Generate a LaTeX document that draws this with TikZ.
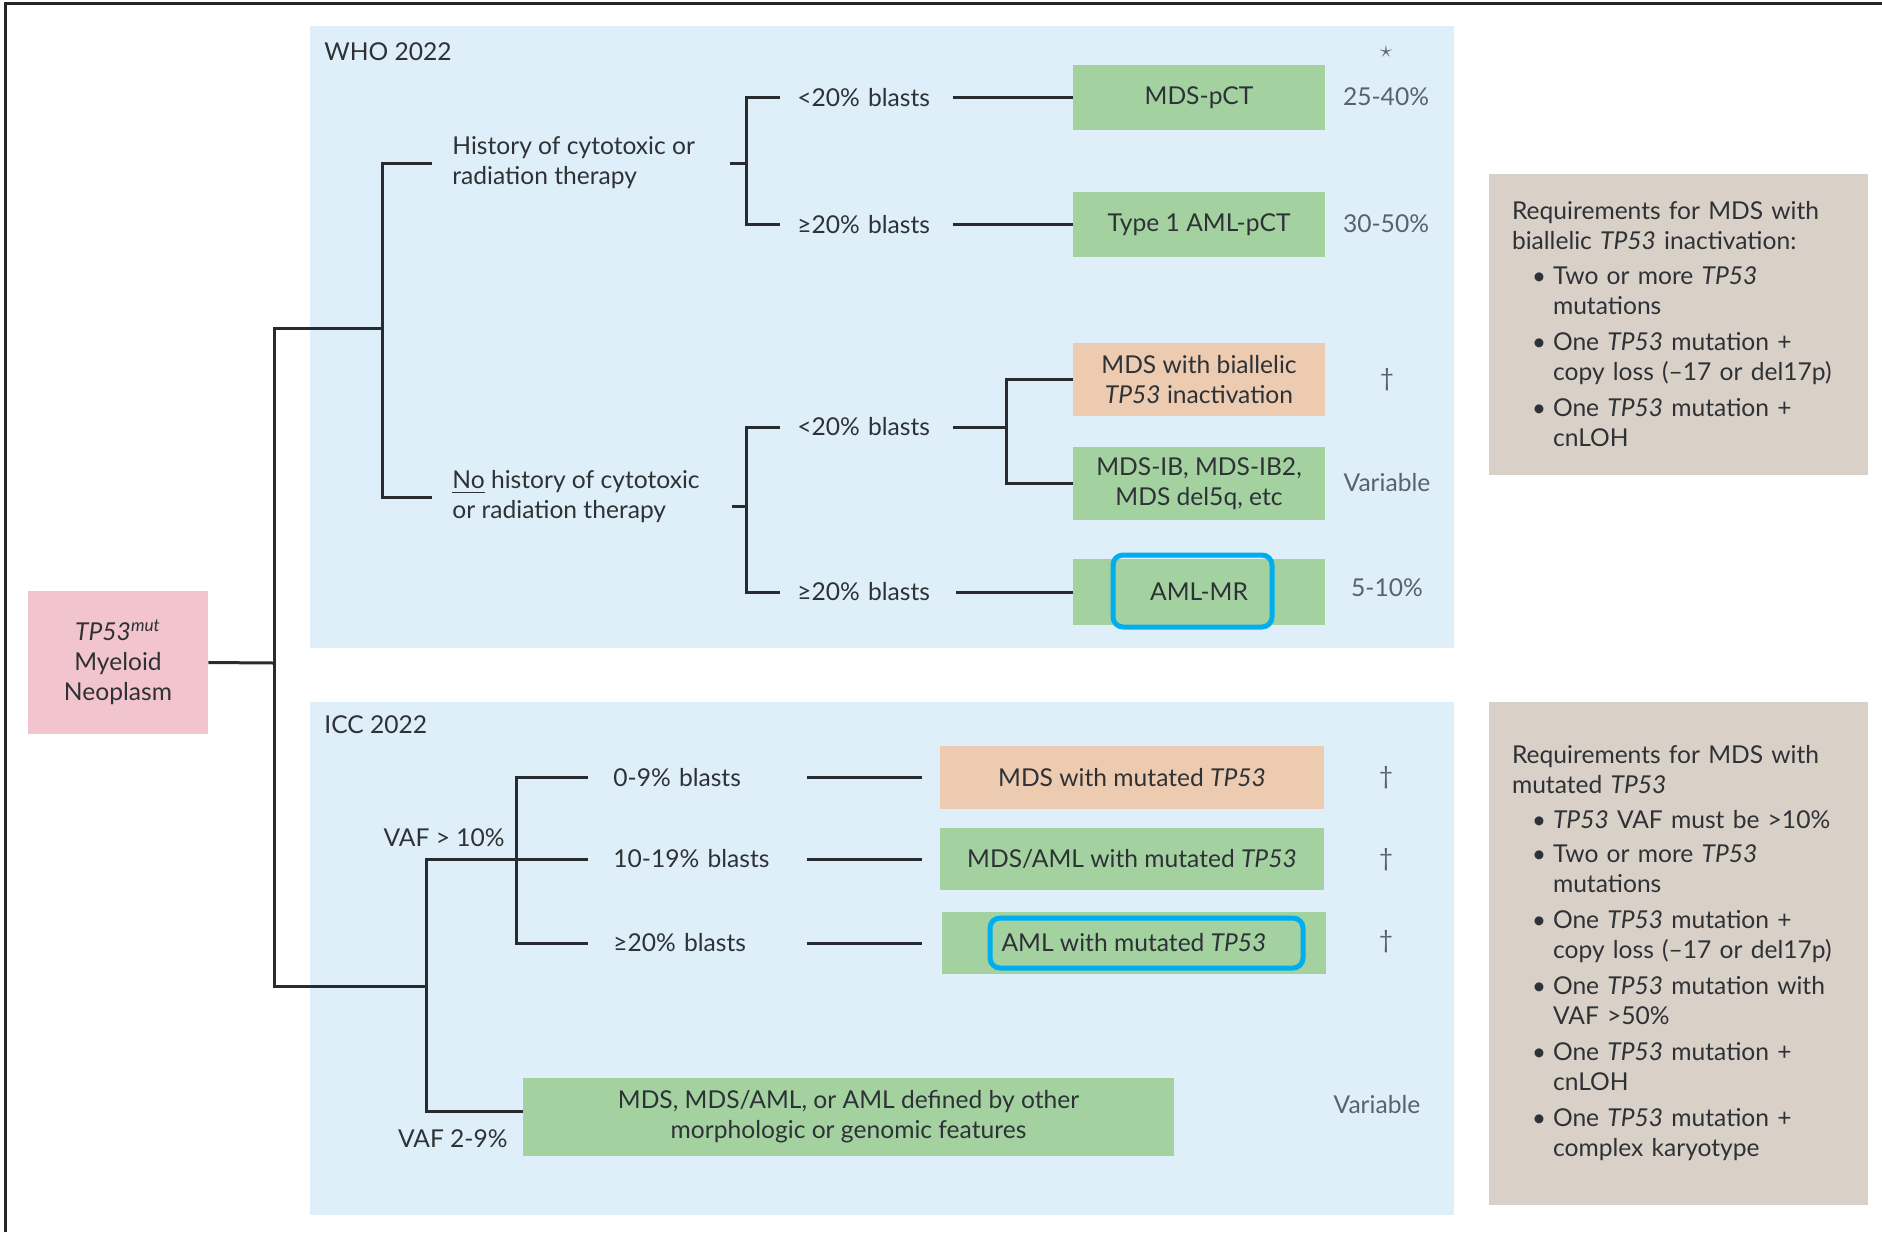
\documentclass[tikz,border=0pt]{standalone}
\usepackage{fontspec}
\setmainfont{Lato}
\definecolor{panelbg}{RGB}{223,239,249}
\definecolor{boxgreen}{RGB}{163,210,160}
\definecolor{boxpeach}{RGB}{237,203,176}
\definecolor{boxpink}{RGB}{242,196,206}
\definecolor{boxtan}{RGB}{217,208,199}
\definecolor{hlcyan}{RGB}{0,174,239}
\definecolor{txt}{RGB}{46,50,54}
\definecolor{pctc}{RGB}{88,98,108}
\definecolor{linec}{RGB}{40,44,48}
\newcommand\fsz{\fontsize{12.3}{15}\selectfont}
\newcommand\bitemx{\hspace*{10pt}\makebox[10.5pt][l]{\large\textbullet}}
\newcommand\contx{\hspace*{20.5pt}}
\begin{document}
\begin{tikzpicture}[x=0.5pt,y=-0.5pt,
  every node/.style={font=\fsz, text=txt},
  cbox/.style={inner sep=0pt, align=center},
  gbox/.style={cbox, fill=boxgreen},
  pbox/.style={cbox, fill=boxpeach},
  hl/.style={draw=hlcyan, line width=2.5pt, rounded corners=5pt, inner sep=0pt},
  conn/.style={draw=linec, line width=1.5pt},
  wlbl/.style={anchor=west, inner xsep=8.5pt, inner ysep=0pt, text width=69pt, align=left},
  ilbl/.style={anchor=west, inner xsep=12.5pt, inner ysep=0pt, text width=84pt, align=left},
  branch/.style={anchor=west, inner xsep=10pt, inner ysep=0pt, align=left},
  pct/.style={text=pctc, inner sep=0pt},
  note/.style={fill=boxtan, inner xsep=11.5pt, inner ysep=0pt, text width=166.5pt, minimum width=189.5pt, align=left}
]
\useasboundingbox (0,0) rectangle (1882,1232);
% frame
\draw[line width=1.5pt, black!85] (5,1232) -- (5,3) -- (1882,3);
% panels
\fill[panelbg] (310,26) rectangle (1454,648);
\fill[panelbg] (310,702) rectangle (1454,1215);
\node[anchor=west, inner sep=0pt] (who) at (324,52) {WHO 2022};
\node[anchor=west, inner sep=0pt] (icc) at (324,725) {ICC 2022};

% root
\node[cbox, fill=boxpink, minimum width=90pt, minimum height=71.5pt] (root) at (118,662.5)
  {\textit{TP53}\textsuperscript{\textit{mut}}\\Myeloid\\Neoplasm};

% coordinates of junctions
\coordinate (tr) at (274,663);
\coordinate (w1) at (382,328);
\coordinate (i1) at (426,986);
\coordinate (i2) at (516,859);
\coordinate (hs) at (730,163);
\coordinate (hb) at (746,163);
\coordinate (ns) at (732,506);
\coordinate (nb) at (746,506);
\coordinate (j3) at (1006,427);

% WHO branch texts
\node[branch] (hist) at (432,163) {History of cytotoxic or\\radiation therapy};
\node[branch] (nohist) at (432,497) {\underline{No} history of cytotoxic\\or radiation therapy};

\node[wlbl] (l1) at (780,97.5) {<20\% blasts};
\node[wlbl] (l2) at (780,224.5) {≥20\% blasts};
\node[wlbl] (l3) at (780,427) {<20\% blasts};
\node[wlbl] (l4) at (780,592) {≥20\% blasts};

\node[gbox, minimum width=126pt, minimum height=32.5pt] (mdspct) at (1199,97.5) {MDS-pCT};
\node[gbox, minimum width=126pt, minimum height=32.5pt] (amlpct) at (1199,224.5) {Type 1 AML-pCT};
\node[pbox, minimum width=126pt, minimum height=36.5pt] (bial) at (1199,379.5) {MDS with biallelic\\\textit{TP53} inactivation};
\node[gbox, minimum width=126pt, minimum height=36.5pt] (mdsib) at (1199,483.5) {MDS-IB, MDS-IB2,\\MDS del5q, etc};
\node[gbox, minimum width=126pt, minimum height=33pt] (amlmr) at (1199,592) {AML-MR};
\node[hl, minimum width=79.5pt, minimum height=36pt] (hl1) at (1192.5,591) {};

\node[pct] (s1) at (1386,52) {$\star$};
\node[pct] (p1) at (1386,97) {25-40\%};
\node[pct] (p2) at (1386,224) {30-50\%};
\node[pct] (p3) at (1387,380) {†};
\node[pct] (p4) at (1387,483) {Variable};
\node[pct] (p5) at (1387,588) {5-10\%};

% ICC
\node[anchor=east, inner sep=0pt] (vaf1) at (505,838) {VAF > 10\%};
\node[anchor=east, inner sep=0pt] (vaf2) at (508,1139) {VAF 2-9\%};

\node[ilbl] (c1) at (588,777.5) {0-9\% blasts};
\node[ilbl] (c2) at (588,859) {10-19\% blasts};
\node[ilbl] (c3) at (588,943) {≥20\% blasts};

\node[pbox, minimum width=192pt, minimum height=31.5pt] (mdsmut) at (1132,777.5) {MDS with mutated \textit{TP53}};
\node[gbox, minimum width=192pt, minimum height=31pt] (mdsaml) at (1132,859) {MDS/AML with mutated \textit{TP53}};
\node[gbox, minimum width=192pt, minimum height=31pt] (amlmut) at (1134,943) {AML with mutated \textit{TP53}};
\node[hl, minimum width=156.5pt, minimum height=25pt] (hl2) at (1146.5,943) {};
\node[gbox, minimum width=325.5pt, minimum height=39pt] (other) at (848.5,1117) {MDS, MDS/AML, or AML defined by other\\morphologic or genomic features};

\node[pct] (d1) at (1386,778) {†};
\node[pct] (d2) at (1386,860) {†};
\node[pct] (d3) at (1386,942) {†};
\node[pct] (p6) at (1377,1105) {Variable};

% notes
\node[note, minimum height=150.5pt] (req1) at (1678.5,324.5) {Requirements for MDS with\\biallelic \textit{TP53} inactivation:\\[2.5pt]
\bitemx Two or more \textit{TP53}\\ \contx mutations\\[3pt]
\bitemx One \textit{TP53} mutation +\\ \contx copy loss (–17 or del17p)\\[3pt]
\bitemx One \textit{TP53} mutation +\\ \contx cnLOH};
\node[note, minimum height=251.5pt] (req2) at (1678.5,953.5) {Requirements for MDS with\\mutated \textit{TP53}\\[2.5pt]
\bitemx \textit{TP53} VAF must be >10\%\\[2pt]
\bitemx Two or more \textit{TP53}\\ \contx mutations\\[3pt]
\bitemx One \textit{TP53} mutation +\\ \contx copy loss (–17 or del17p)\\[3pt]
\bitemx One \textit{TP53} mutation with\\ \contx VAF >50\%\\[3pt]
\bitemx One \textit{TP53} mutation +\\ \contx cnLOH\\[3pt]
\bitemx One \textit{TP53} mutation +\\ \contx complex karyotype};

% connectors
\draw[conn] (root.east) -- (tr);
\draw[conn] (w1) -| (tr) |- (i1);
\draw[conn] (hist.west) -| (w1) |- (nohist.west);
\draw[conn] (hs) -- (hb);
\draw[conn] (l1.west) -| (hb) |- (l2.west);
\draw[conn] (ns) -- (nb);
\draw[conn] (l3.west) -| (nb) |- (l4.west);
\draw[conn] (l1.east) -- (mdspct.west);
\draw[conn] (l2.east) -- (amlpct.west);
\draw[conn] (l3.east) -- (j3);
\draw[conn] (bial.west) -| (j3) |- (mdsib.west);
\draw[conn] ([xshift=1.5pt]l4.east) -- (amlmr.west);

\draw[conn] (i2) -| (i1) |- ([yshift=3pt]other.west);
\draw[conn] (c1.west) -| (i2) |- (c3.west);
\draw[conn] (i2) -- (c2.west);
\draw[conn] (c1.east) -- ([xshift=-9pt]mdsmut.west);
\draw[conn] (c2.east) -- ([xshift=-9pt]mdsaml.west);
\draw[conn] (c3.east) -- ([xshift=-10pt]amlmut.west);
\end{tikzpicture}
\end{document}
